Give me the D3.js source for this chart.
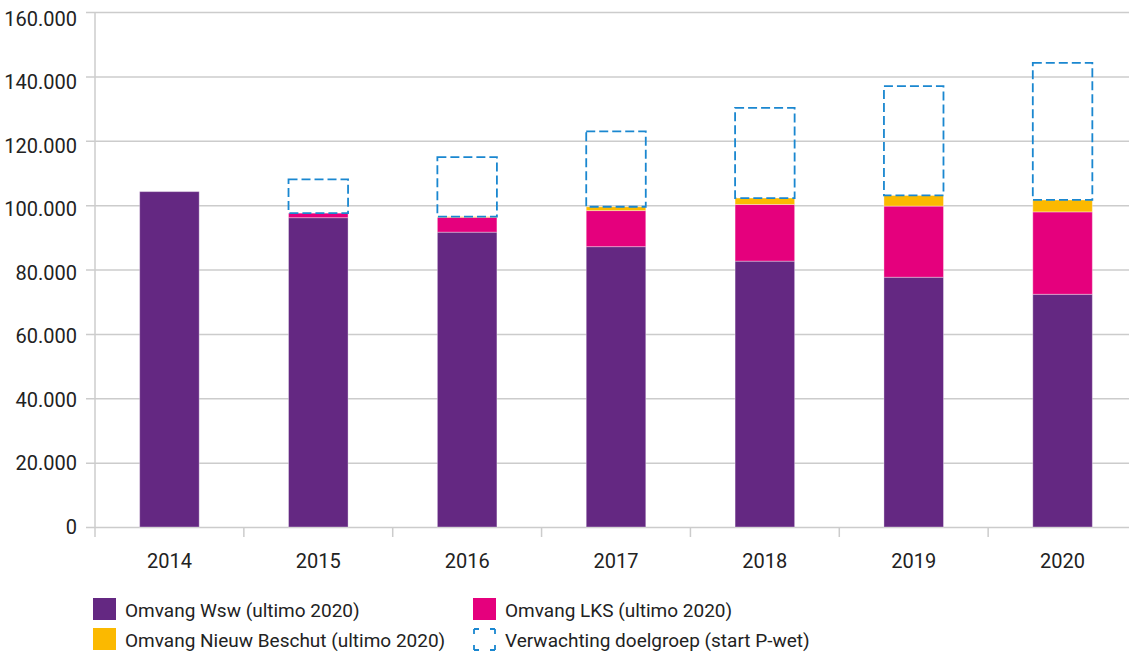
<!DOCTYPE html>
<html>
<head>
<meta charset="utf-8">
<script src="https://cdn.jsdelivr.net/npm/d3@7"></script>
<style>
  html, body { margin: 0; padding: 0; background: #fff; }
  svg { display: block; font-family: Roboto, "Noto Sans", sans-serif; }
</style>
</head>
<body>
<svg id="chart" width="1129" height="657"></svg>
<script>
const years = ["2014", "2015", "2016", "2017", "2018", "2019", "2020"];
const wsw = [104200, 96100, 91600, 87100, 82600, 77600, 72300];
const lks = [0, 1400, 4600, 11200, 17600, 22100, 25600];
const nieuwBeschut = [0, 0, 200, 1200, 2000, 3300, 3700];
const verwachting = [null, 108000, 114900, 122900, 130200, 137000, 144200];
const yTicks = [0, 20000, 40000, 60000, 80000, 100000, 120000, 140000, 160000];
const legendLabels = ["Omvang Wsw (ultimo 2020)", "Omvang LKS (ultimo 2020)",
  "Omvang Nieuw Beschut (ultimo 2020)", "Verwachting doelgroep (start P-wet)"];

const colors = { wsw: "#642882", lks: "#e5007d", nb: "#fbb900", exp: "#1a87d0" };

const svg = d3.select("#chart");
const plotLeft = 95, plotRight = 1137, plotTop = 12, plotBottom = 527;

const xBand = d3.scaleBand().domain(years).range([plotLeft, plotRight]).padding(0);
const y = d3.scaleLinear().domain([0, 160000]).range([plotBottom, plotTop]);
const barW = xBand.bandwidth() * 0.4;
const barX = d => xBand(d) + xBand.bandwidth() * 0.3;

// gridlines + y labels
const yAxis = d3.axisLeft(y).tickValues(yTicks).tickSize(0).tickPadding(0)
  .tickFormat(d => d3.format(",")(d).replace(/,/g, "."));
const gy = svg.append("g").attr("transform", `translate(86,0)`).call(yAxis);
gy.select(".domain").remove();
gy.selectAll(".tick line").attr("x1", 0).attr("x2", 1129 - 86).attr("stroke", "#cccccc").attr("stroke-width", 1.5);
gy.selectAll(".tick text").attr("x", -9).attr("dy", d => (0.32 * 20 + d / 160000 * 7) + "px")
  .attr("font-size", 20).attr("fill", "#222").attr("font-family", "Roboto");

// y axis vertical line
svg.append("line").attr("x1", plotLeft).attr("x2", plotLeft).attr("y1", plotTop).attr("y2", plotBottom + 10)
  .attr("stroke", "#cccccc").attr("stroke-width", 1.5);

// x ticks at band boundaries
svg.append("g").selectAll("line").data(years.slice(1)).join("line")
  .attr("x1", d => xBand(d)).attr("x2", d => xBand(d))
  .attr("y1", plotBottom).attr("y2", plotBottom + 10)
  .attr("stroke", "#cccccc").attr("stroke-width", 1.5);

// x labels
svg.append("g").selectAll("text").data(years).join("text")
  .attr("x", d => xBand(d) + xBand.bandwidth() / 2).attr("y", 568)
  .attr("text-anchor", "middle").attr("font-size", 20).attr("fill", "#222")
  .text(d => d);

// stacked bars
const rows = years.map((yr, i) => ({ year: yr, wsw: wsw[i], lks: lks[i], nb: nieuwBeschut[i], exp: verwachting[i] }));
const stack = d3.stack().keys(["wsw", "lks", "nb"])(rows);
const keyColor = { wsw: colors.wsw, lks: colors.lks, nb: colors.nb };

svg.append("g").selectAll("g").data(stack).join("g")
  .attr("fill", s => keyColor[s.key])
  .selectAll("rect").data(s => s.filter(d => d[1] - d[0] > 0)).join("rect")
  .attr("x", d => barX(d.data.year)).attr("width", barW)
  .attr("y", d => y(d[1])).attr("height", d => y(d[0]) - y(d[1]))
  .attr("stroke", "rgba(255,255,255,0.35)").attr("stroke-width", 1);

// expectation dashed boxes
svg.append("g").selectAll("rect").data(rows.filter(r => r.exp != null)).join("rect")
  .attr("x", d => barX(d.year)).attr("width", barW)
  .attr("y", d => y(d.exp)).attr("height", d => y(d.wsw + d.lks + d.nb) - y(d.exp))
  .attr("fill", "none").attr("stroke", colors.exp).attr("stroke-width", 1.8)
  .attr("stroke-dasharray", "9,4");

// legend
const legendPos = [[93, 598], [473, 598], [93, 628], [473, 628]];
const legendFill = [colors.wsw, colors.lks, colors.nb, null];
const lg = svg.append("g");
legendLabels.forEach((lab, i) => {
  const [lx, ly] = legendPos[i];
  if (legendFill[i]) {
    lg.append("rect").attr("x", lx).attr("y", ly).attr("width", 23).attr("height", 22).attr("fill", legendFill[i]);
  } else {
    lg.append("rect").attr("x", lx + 1).attr("y", ly + 1).attr("width", 21).attr("height", 21)
      .attr("fill", "none").attr("stroke", colors.exp).attr("stroke-width", 1.8)
      .attr("stroke-dasharray", "5,11,5,0");
  }
  lg.append("text").attr("x", lx + 32).attr("y", ly + 19).attr("font-size", 19).attr("fill", "#222").text(lab);
});
</script>
</body>
</html>
